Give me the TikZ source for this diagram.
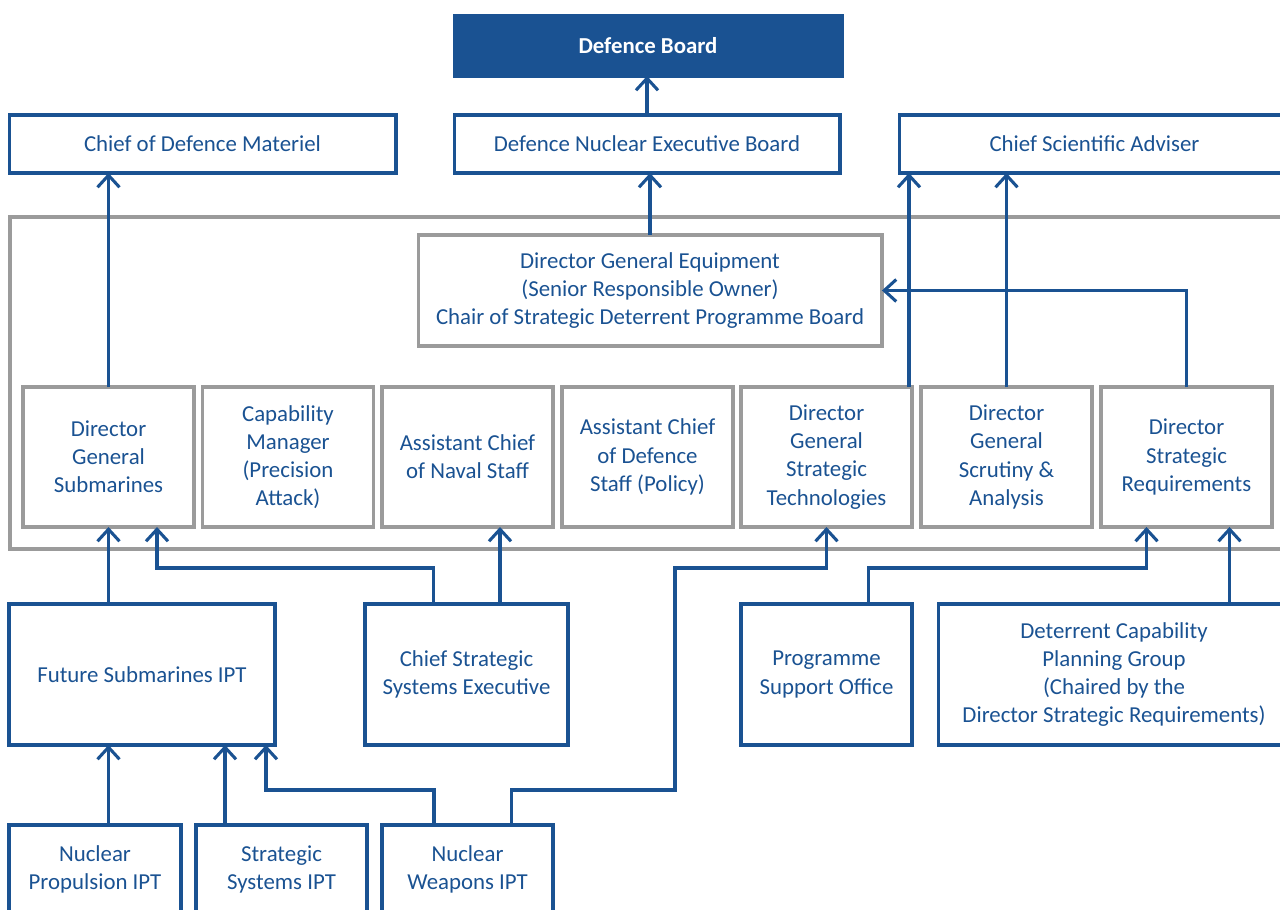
\documentclass[tikz,border=0pt]{standalone}
\usepackage{fontspec}
\setmainfont{Carlito}
\usetikzlibrary{arrows.meta, calc}

\definecolor{navy}{RGB}{26,82,146}
\definecolor{frame}{RGB}{155,155,155}

\begin{document}
\begin{tikzpicture}[x=0.02cm, y=-0.02cm, >={Straight Barb[length=0.24cm, width=0.44cm]},
	box/.style={draw=navy, line width=1.75pt, outer sep=0pt, inner sep=0pt, align=center, text=navy, font=\fontsize{13}{16}\selectfont},
	greybox/.style={box, draw=frame},
	link/.style={navy, line width=1.75pt, ->}]
		\useasboundingbox (0,0) rectangle (1280,909);
		%top
			\node [box, fill=navy, text=white, font=\fontsize{13}{16}\selectfont\bfseries, minimum width=7.76cm, minimum height=1.2cm] (db) at (648,46) {Defence Board};
			\node [box, minimum width=7.74cm, minimum height=1.16cm] (cdm) at (202.5,144) {Chief of Defence Materiel};
			\node [box, minimum width=7.72cm, minimum height=1.16cm] (dneb) at (647,144) {Defence Nuclear Executive Board};
			\node [box, minimum width=7.82cm, minimum height=1.16cm] (csa) at (1094.5,144) {Chief Scientific Adviser};
		%programme board
			\draw [frame, line width=1.75pt] (10,217) rectangle (1290,549);
			\node [greybox, minimum width=9.28cm, minimum height=2.22cm] (dge) at (650,290.5) {Director General Equipment\\(Senior Responsible Owner)\\Chair of Strategic Deterrent Programme Board};
			\node [greybox, minimum width=3.42cm, minimum height=2.8cm] (dgsub) at (108.5,457) {Director\\General\\Submarines};
			\node [greybox, minimum width=3.42cm, minimum height=2.8cm] (cm) at (288,457) {Capability\\Manager\\(Precision\\Attack)};
			\node [greybox, minimum width=3.42cm, minimum height=2.8cm] (acns) at (467.5,457) {Assistant Chief\\of Naval Staff};
			\node [greybox, minimum width=3.42cm, minimum height=2.8cm] (acds) at (647.5,457) {Assistant Chief\\of Defence\\Staff (Policy)};
			\node [greybox, minimum width=3.42cm, minimum height=2.8cm] (dgst) at (826.5,457) {Director\\General\\Strategic\\Technologies};
			\node [greybox, minimum width=3.42cm, minimum height=2.8cm] (dgsa) at (1006.5,457) {Director\\General\\Scrutiny \&\\Analysis};
			\node [greybox, minimum width=3.42cm, minimum height=2.8cm] (dsr) at (1186.5,457) {Director\\Strategic\\Requirements};
		%bottom
			\node [box, minimum width=5.32cm, minimum height=2.82cm] (fsipt) at (142,674.5) {Future Submarines IPT};
			\node [box, minimum width=4.06cm, minimum height=2.82cm] (csse) at (466.5,674.5) {Chief Strategic\\Systems Executive};
			\node [box, minimum width=3.42cm, minimum height=2.82cm] (pso) at (826.5,674.5) {Programme\\Support Office};
			\node [box, minimum width=7.04cm, minimum height=2.82cm] (dcpg) at (1114,674.5) {Deterrent Capability\\Planning Group\\(Chaired by the\\Director Strategic Requirements)};
			\node [box, minimum width=3.44cm, minimum height=1.78cm] (np) at (95,869.5) {Nuclear\\Propulsion IPT};
			\node [box, minimum width=3.42cm, minimum height=1.78cm] (ss) at (281.5,869.5) {Strategic\\Systems IPT};
			\node [box, minimum width=3.42cm, minimum height=1.78cm] (nw) at (467.5,869.5) {Nuclear\\Weapons IPT};
		%arrows up
			\coordinate (dgstup) at ($(dgst.north east)+(-3,0)$);
			\coordinate (dgsubR) at ($(dgsub.south)+(48.5,0)$);
			\coordinate (csseL) at ($(csse.north)+(-33,0)$);
			\coordinate (csseR) at ($(csse.north)+(33.5,0)$);
			\coordinate (npup) at (dgsub.south |- np.north);
			\coordinate (ssL) at ($(ss.north)+(-56.5,0)$);
			\coordinate (nwL) at ($(nw.north)+(-33.5,0)$);
			\coordinate (nwR) at ($(nw.north)+(44,0)$);
			\coordinate (fsiptR) at ($(fsipt.south east)+(-9,0)$);
			\coordinate (psoL) at ($(pso.north)+(42,0)$);
			\coordinate (dsrL) at ($(dsr.south)+(-40,0)$);
			\coordinate (dsrR) at ($(dsr.south)+(43,0)$);
			\draw [link] (dneb.north) -- (dneb.north |- db.south);
			\draw [link] (dge.north) -- (dge.north |- dneb.south);
			\draw [link] (dgsub.north) -- (dgsub.north |- cdm.south);
			\draw [link] (dgstup) -- (dgstup |- csa.south);
			\draw [link] (dgsa.north) -- (dgsa.north |- csa.south);
			\draw [link] (dsr.north) |- (dge.east);
			\draw [link] (dgsub.south |- fsipt.north) -- (dgsub.south);
			\draw [link] (csseL) -- ++(0,-36) -| (dgsubR);
			\draw [link] (csseR) -- (csseR |- acns.south);
			\draw [link] (npup) -- (npup |- fsipt.south);
			\draw [link] (ssL) -- (ssL |- fsipt.south);
			\draw [link] (nwL) -- ++(0,-35) -| (fsiptR);
			\draw [link] (nwR) -- ++(0,-35) -| ($(dgst.south)+(-151.5,41)$) -| (dgst.south);
			\draw [link] (psoL) -- ++(0,-36) -| (dsrL);
			\draw [link] (dcpg.north -| dsrR) -- (dsrR);
\end{tikzpicture}
\end{document}
